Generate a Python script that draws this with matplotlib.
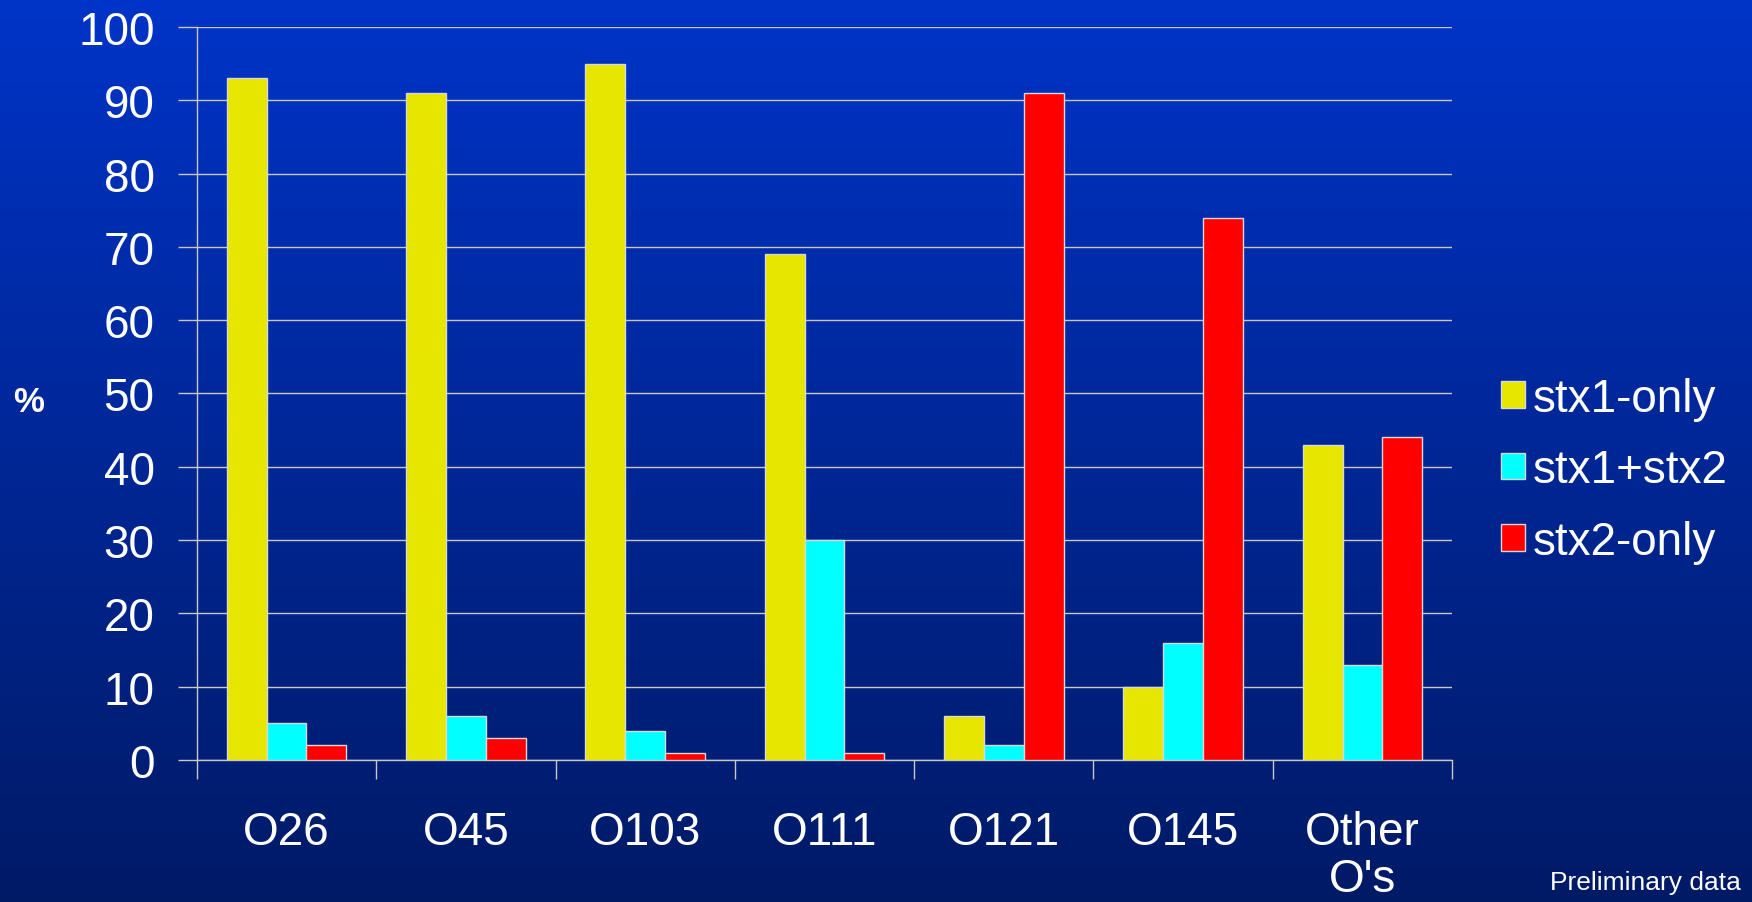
import matplotlib.pyplot as plt
import numpy as np

plt.rcParams['font.family'] = ['Liberation Sans', 'DejaVu Sans']

# Data
categories = ['O26', 'O45', 'O103', 'O111', 'O121', 'O145', "Other\nO's"]
series_names = ['stx1-only', 'stx1+stx2', 'stx2-only']
stx1_only = [93, 91, 95, 69, 6, 10, 43]
stx1_stx2 = [5, 6, 4, 30, 2, 16, 13]
stx2_only = [2, 3, 1, 1, 91, 74, 44]
y_ticks = [0, 10, 20, 30, 40, 50, 60, 70, 80, 90, 100]

colors = ['#e6e600', '#00ffff', '#ff0000']
grid_col = '#c8c8c8'

fig = plt.figure(figsize=(17.52, 9.03), dpi=100)

# blue gradient background
bg = fig.add_axes([0, 0, 1, 1], zorder=-10)
top = np.array([0, 52, 200]) / 255
bottom = np.array([0, 26, 102]) / 255
t = np.linspace(0, 1, 256)[:, None]
grad = top[None, :] * (1 - t) + bottom[None, :] * t
bg.imshow(grad[:, None, :], aspect='auto', extent=[0, 1, 0, 1])
bg.axis('off')

ax = fig.add_axes([0.1124, 0.1573, 0.7164, 0.8117])
ax.patch.set_alpha(0)

x = np.arange(len(categories))
w = 0.222
for i, (vals, name) in enumerate(zip([stx1_only, stx1_stx2, stx2_only], series_names)):
    ax.bar(x + (i - 1) * w, vals, w, color=colors[i], edgecolor='#d8d8d8',
           linewidth=1, label=name, zorder=3)

ax.set_xlim(-0.5, len(categories) - 0.5)
ax.set_ylim(0, 100)
ax.set_yticks(y_ticks)
ax.set_yticklabels([str(v) for v in y_ticks])
ax.set_xticks(np.arange(len(categories) + 1) - 0.5)
ax.set_xticklabels([])
ax.set_xticks(x, minor=True)
ax.set_xticklabels(categories, minor=True)
ax.grid(axis='y', color=grid_col, linewidth=1, zorder=0)

ax.tick_params(axis='y', colors=grid_col, labelcolor='white', labelsize=33,
               length=14, width=1, pad=16.5)
ax.tick_params(axis='x', which='major', colors=grid_col, length=14, width=1)
ax.tick_params(axis='x', which='minor', length=0, labelcolor='white',
               labelsize=33, pad=36)
for lab in ax.get_xticklabels(minor=True):
    lab.set_linespacing(1.1)

for s in ['top', 'right']:
    ax.spines[s].set_visible(False)
for s in ['left', 'bottom']:
    ax.spines[s].set_color(grid_col)
    ax.spines[s].set_linewidth(1)

ax.set_ylabel('%', rotation=0, color='white', fontsize=25, fontweight='bold',
              ha='center', va='center')
ax.yaxis.set_label_coords(-0.134, 0.489)

leg = fig.legend(loc='center left', bbox_to_anchor=(0.8435, 0.478), frameon=False,
                 fontsize=33, handlelength=0.52, handleheight=0.52,
                 handletextpad=0.18, labelspacing=0.6, borderpad=0)
for txt in leg.get_texts():
    txt.set_color('white')

fig.text(0.9937, 0.0144, 'Preliminary data', color='white', fontsize=19,
         ha='right', va='baseline')

fig.savefig('out.png', dpi=100)
